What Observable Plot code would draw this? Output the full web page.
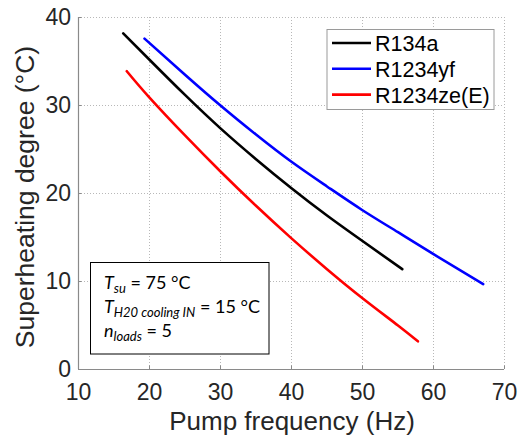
<!DOCTYPE html>
<html>
<head>
<meta charset="utf-8">
<script src="https://cdn.jsdelivr.net/npm/d3@7"></script>
<script src="https://cdn.jsdelivr.net/npm/@observablehq/plot@0.6"></script>
<style>
  html, body { margin: 0; padding: 0; background: #fff; }
  #chart { width: 521px; height: 436px; }
</style>
</head>
<body>
<div id="chart"></div>
<script>
// ---- data ----
const seriesNames = ["R134a", "R1234yf", "R1234ze(E)"];
const seriesColors = ["#000000", "#0000ff", "#ff0000"];

const r134aFreq = [16.3, 20, 25, 30, 35, 40, 45, 50, 55.6];
const r134aSH   = [38.2, 35.2, 31.2, 27.4, 23.9, 20.6, 17.5, 14.6, 11.4];

const r1234yfFreq = [19.3, 25, 30, 35, 40, 45, 50, 55, 60, 67];
const r1234yfSH   = [37.6, 33.5, 30.0, 26.7, 23.6, 20.8, 18.1, 15.6, 13.1, 9.7];

const r1234zeFreq = [16.8, 20, 25, 30, 35, 40, 45, 50, 55, 57.8];
const r1234zeSH   = [33.9, 30.9, 26.6, 22.5, 18.6, 14.9, 11.4, 8.1, 5.0, 3.2];

const xTicks = [10, 20, 30, 40, 50, 60, 70];
const yTicks = [0, 10, 20, 30, 40];
const xLabel = "Pump frequency (Hz)";
const yLabel = "Superheating degree (°C)";

// ---- build table ----
const freqs = [r134aFreq, r1234yfFreq, r1234zeFreq];
const shs = [r134aSH, r1234yfSH, r1234zeSH];
const rows = [];
seriesNames.forEach((name, i) => {
  freqs[i].forEach((f, j) => rows.push({series: name, freq: f, sh: shs[i][j]}));
});

const W = 521, H = 436;
const tickColor = "#262626";
const plot = Plot.plot({
  width: W,
  height: H,
  marginLeft: 78,
  marginRight: 17,
  marginTop: 17,
  marginBottom: 67,
  style: {background: "#fff", fontFamily: "'Liberation Sans', Arial, sans-serif"},
  x: {domain: [10, 70], label: null},
  y: {domain: [0, 40], label: null},
  color: {domain: seriesNames, range: seriesColors},
  marks: [
    Plot.gridX(xTicks, {stroke: "#b8b8b8", strokeOpacity: 1, strokeDasharray: "1,2"}),
    Plot.gridY(yTicks, {stroke: "#b8b8b8", strokeOpacity: 1, strokeDasharray: "1,2"}),
    Plot.ruleX([10], {stroke: "#8a8a8a", strokeWidth: 1.2}),
    Plot.ruleY([0], {stroke: "#8a8a8a", strokeWidth: 1.2}),
    Plot.ruleX(xTicks, {y1: 0, y2: 0.4, stroke: "#8a8a8a"}),
    Plot.ruleY(yTicks, {x1: 10, x2: 10.5, stroke: "#8a8a8a"}),
    Plot.axisX(xTicks, {tickSize: 0, tickPadding: 14, fontSize: 23, color: tickColor, label: null}),
    Plot.axisY(yTicks, {tickSize: 0, tickPadding: 7.5, fontSize: 23, color: tickColor, label: null}),
    Plot.line(rows, {x: "freq", y: "sh", z: "series", stroke: "series", strokeWidth: 2.6, curve: "natural"})
  ]
});

const svg = d3.select(plot);
const font = "'Liberation Sans', Arial, sans-serif";

// axis titles
svg.append("text")
  .attr("x", 292).attr("y", 430)
  .attr("text-anchor", "middle")
  .attr("font-family", font).attr("font-size", 26)
  .attr("fill", tickColor)
  .text(xLabel);
svg.append("text")
  .attr("transform", "translate(34,197) rotate(-90)")
  .attr("text-anchor", "middle")
  .attr("font-family", font).attr("font-size", 26.5)
  .attr("fill", tickColor)
  .text(yLabel);

// legend
const lg = svg.append("g").attr("text-anchor", "start");
lg.append("rect")
  .attr("x", 327).attr("y", 29.5).attr("width", 167).attr("height", 80)
  .attr("fill", "#fff").attr("stroke", "#9a9a9a").attr("stroke-width", 1);
seriesNames.forEach((name, i) => {
  const yy = 43 + i * 25.8;
  lg.append("line")
    .attr("x1", 332).attr("x2", 371).attr("y1", yy).attr("y2", yy)
    .attr("stroke", seriesColors[i]).attr("stroke-width", 2.6);
  lg.append("text")
    .attr("x", 375).attr("y", yy + 8)
    .attr("text-anchor", "start")
    .attr("font-family", font).attr("font-size", 21.5)
    .attr("fill", "#000")
    .text(name);
});

// annotation box
const ab = svg.append("g").attr("text-anchor", "start");
ab.append("rect")
  .attr("x", 90.5).attr("y", 262.5).attr("width", 178.5).attr("height", 91.5)
  .attr("fill", "#fff").attr("stroke", "#000").attr("stroke-width", 1);
const afont = "Lato, 'Open Sans', sans-serif";
const annLines = [
  {main: "T", sub: "su", rest: " = 75 °C"},
  {main: "T", sub: "H20 cooling IN", rest: " = 15 °C"},
  {main: "n", sub: "loads", rest: " = 5"}
];
annLines.forEach((d, i) => {
  const t = ab.append("text")
    .attr("x", 104).attr("y", 289 + i * 24)
    .attr("text-anchor", "start")
    .attr("font-family", afont).attr("font-size", 18)
    .attr("fill", "#000");
  t.append("tspan").attr("font-style", "italic").text(d.main);
  t.append("tspan").attr("font-style", "italic").attr("font-size", 13).attr("dy", 4).text(d.sub);
  t.append("tspan").attr("dy", -4).text(d.rest);
});

document.getElementById("chart").appendChild(plot);
</script>
</body>
</html>
